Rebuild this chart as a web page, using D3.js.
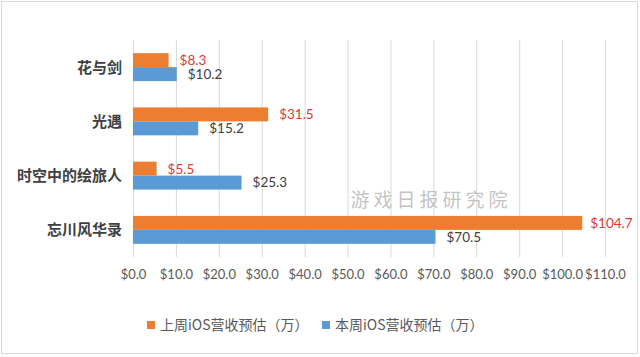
<!DOCTYPE html>
<html><head><meta charset="utf-8">
<script src="https://cdn.jsdelivr.net/npm/d3@7"></script>
<style>body{margin:0;background:#fff}svg{display:block}</style>
</head><body>
<svg id="c" width="640" height="357"></svg>
<script>
const categories = ["花与剑", "光遇", "时空中的绘旅人", "忘川风华录"];
const seriesNames = ["上周iOS营收预估（万）", "本周iOS营收预估（万）"];
const lastWeek = [8.3, 31.5, 5.5, 104.7];
const thisWeek = [10.2, 15.2, 25.3, 70.5];
const xTicks = [0, 10, 20, 30, 40, 50, 60, 70, 80, 90, 100, 110];
const colors = ["#ED7D31", "#5B9BD5"];
const labelColors = ["#D93A3A", "#404040"];
const watermark = "游戏日报研究院";

const svg = d3.select("#c");
svg.append("rect").attr("x",1.5).attr("y",1.5).attr("width",636).attr("height",352)
  .attr("fill","#fff").attr("stroke","#d9d9d9");

const x = d3.scaleLinear().domain([0,110]).range([133,605]);
const y = d3.scaleBand().domain(categories).range([40,257]).paddingInner(0.485).paddingOuter(0.2425);
const ys = d3.scaleBand().domain(seriesNames).range([0,y.bandwidth()]);

// gridlines + ticks via axis
const ax = d3.axisBottom(x).tickValues(xTicks).tickSize(-217).tickFormat(d => "$" + d.toFixed(1));
const g = svg.append("g").attr("transform","translate(0,257)").call(ax);
g.select(".domain").remove();
g.selectAll(".tick line").attr("stroke","#d9d9d9").attr("stroke-width",1);
g.selectAll(".tick text").attr("fill","#595959").attr("font-family","Lato, 'Open Sans', sans-serif")
  .attr("font-size",13).attr("dy","1.0em").attr("y",9);

// watermark
svg.append("text").attr("x",431).attr("y",207).attr("text-anchor","middle")
  .attr("font-family","'Noto Sans CJK SC', sans-serif").attr("font-size",19)
  .attr("letter-spacing",4).attr("fill","#b8b8b8").attr("fill-opacity",0.85).text(watermark);

const data = [lastWeek, thisWeek];
data.forEach((vals, si) => {
  const s = seriesNames[si];
  svg.append("g").selectAll("rect").data(categories).join("rect")
    .attr("x", x(0)).attr("y", c => y(c) + ys(s))
    .attr("width", (c,i) => x(vals[i]) - x(0)).attr("height", ys.bandwidth())
    .attr("fill", colors[si]);
  svg.append("g").selectAll("text").data(categories).join("text")
    .attr("x", (c,i) => x(vals[i]) + (vals[i] > 100 ? 8 : 11))
    .attr("y", c => y(c) + ys(s) + ys.bandwidth()/2)
    .attr("dy","0.36em")
    .attr("font-family","Lato, 'Open Sans', sans-serif").attr("font-size",13.5)
    .attr("fill", labelColors[si])
    .text((c,i) => "$" + vals[i].toFixed(1));
});

// category labels
svg.append("g").selectAll("text").data(categories).join("text")
  .attr("x",122).attr("y", c => y(c) + y.bandwidth()/2).attr("dy","0.36em")
  .attr("text-anchor","end").attr("font-family","'Noto Sans CJK SC', sans-serif")
  .attr("font-size",15).attr("font-weight","bold").attr("fill","#404040").text(c => c);

// legend
const legX = [147, 322];
seriesNames.forEach((n, i) => {
  svg.append("rect").attr("x", legX[i]).attr("y", 321).attr("width", 8).attr("height", 8).attr("fill", colors[i]);
  svg.append("text").attr("x", legX[i] + 13).attr("y", 325).attr("dy","0.36em")
    .attr("font-family","'Noto Sans CJK SC', sans-serif").attr("font-size",14)
    .attr("fill","#595959").text(n);
});
</script>
</body></html>
